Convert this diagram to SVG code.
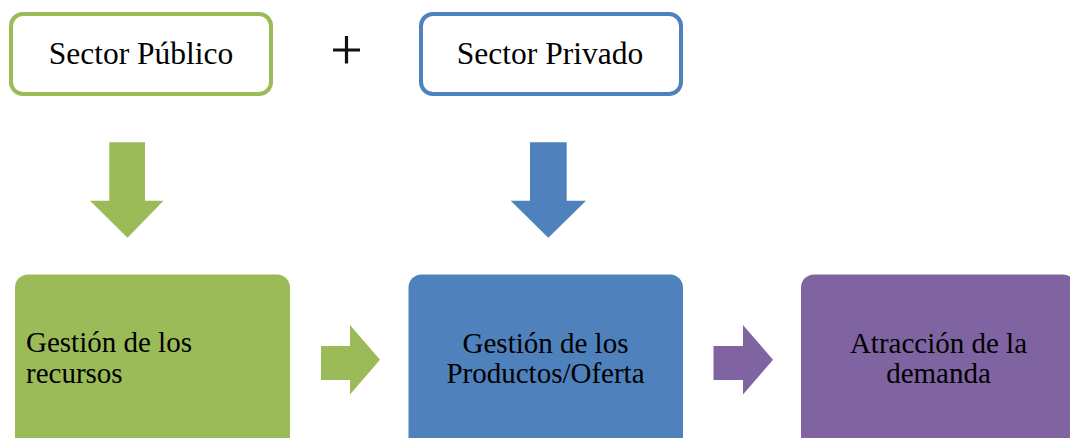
<svg xmlns="http://www.w3.org/2000/svg" width="1070" height="438" viewBox="0 0 1070 438">
<style>
  .t { font-family: "Liberation Serif", "Times New Roman", serif; fill: #000; }
  .top { font-size: 31.5px; }
  .bot { font-size: 29px; }
  .outline { fill: #fff; stroke-width: 4; }
</style>
<rect width="1070" height="438" fill="#fff"/>
<g id="sector-publico">
  <rect class="outline" x="11" y="14" width="260" height="80" rx="12" stroke="#9BBB59"/>
  <text class="t top" x="141" y="64" text-anchor="middle">Sector Público</text>
</g>
<g id="plus">
  <path d="M333 50H360M346.5 36V63.5" stroke="#111" stroke-width="3.2" fill="none"/>
</g>
<g id="sector-privado">
  <rect class="outline" x="421" y="14" width="260" height="80" rx="12" stroke="#4F81BD"/>
  <text class="t top" x="550" y="64" text-anchor="middle">Sector Privado</text>
</g>
<g id="gestion-recursos">
  <rect x="15" y="274.5" width="275" height="200" rx="13" fill="#9BBB59"/>
  <text class="t bot" x="26" y="352">Gestión de los</text>
  <text class="t bot" x="26" y="383">recursos</text>
</g>
<g id="gestion-productos">
  <rect x="408.5" y="274.5" width="274.5" height="200" rx="13" fill="#4F81BD"/>
  <text class="t bot" x="545.5" y="353" text-anchor="middle">Gestión de los</text>
  <text class="t bot" x="545.5" y="383" text-anchor="middle">Productos/Oferta</text>
</g>
<g id="atraccion-demanda">
  <rect x="801" y="274.5" width="275" height="200" rx="13" fill="#8064A2"/>
  <text class="t bot" x="938.5" y="353" text-anchor="middle">Atracción de la</text>
  <text class="t bot" x="938.5" y="383" text-anchor="middle">demanda</text>
</g>
<g id="connectors">
  <path d="M109.3 142.3H145V200.7H163.5L127.5 237.8L90 200.7H109.3Z" fill="#9BBB59"/>
  <path d="M530 142.3H566.7V200.7H586L548.3 237.8L510.7 200.7H530Z" fill="#4F81BD"/>
  <path d="M321 346H350V325L380 359.7L350 394.5V380H321Z" fill="#9BBB59"/>
  <path d="M713.5 346H743V325L773 359.7L743 394.5V380H713.5Z" fill="#8064A2"/>
</g>
</svg>
